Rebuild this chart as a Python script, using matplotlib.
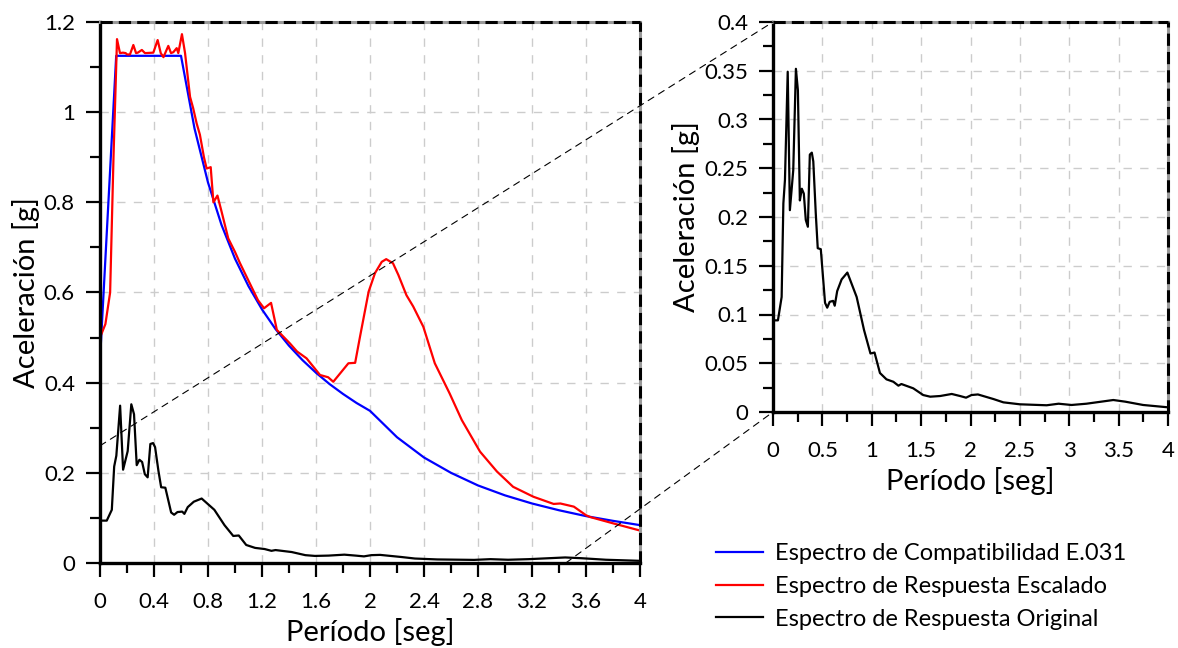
import matplotlib.pyplot as plt
from matplotlib.patches import ConnectionPatch
from matplotlib.ticker import MultipleLocator, FormatStrFormatter

plt.rcParams['font.family'] = ['Lato', 'DejaVu Sans']

# espectro de diseño E.031
t_diseno = [0, 0.12, 0.6, 0.7, 0.8, 0.9, 1.0, 1.1, 1.2, 1.3, 1.4, 1.5, 1.6, 1.7, 1.8,
            1.9, 2.0, 2.2, 2.4, 2.6, 2.8, 3.0, 3.2, 3.4, 3.6, 3.8, 4.0]
sa_diseno = [0.45, 1.125, 1.125, 0.964, 0.844, 0.75, 0.675, 0.614, 0.5625, 0.519, 0.482,
             0.45, 0.422, 0.397, 0.375, 0.355, 0.3375, 0.279, 0.234, 0.2, 0.172, 0.15,
             0.132, 0.117, 0.104, 0.0935, 0.084]

# espectro escalado
t_escalado = [0, 0.04, 0.075, 0.1, 0.126, 0.148, 0.17, 0.19, 0.2, 0.222, 0.247, 0.267,
              0.28, 0.31, 0.333, 0.395, 0.427, 0.45, 0.47, 0.506, 0.526, 0.543, 0.568,
              0.58, 0.607, 0.63, 0.667, 0.69, 0.716, 0.74, 0.77, 0.79, 0.82, 0.84,
              0.87, 0.9, 0.95, 1.0, 1.037, 1.11, 1.17, 1.215, 1.267, 1.31, 1.407, 1.46,
              1.53, 1.63, 1.69, 1.728, 1.78, 1.84, 1.89, 1.926, 1.99, 2.037, 2.087,
              2.12, 2.17, 2.21, 2.27, 2.32, 2.395, 2.48, 2.59, 2.68, 2.815, 2.94, 3.06,
              3.21, 3.36, 3.41, 3.51, 3.6, 3.63, 3.8, 4.0]
sa_escalado = [0.50, 0.53, 0.60, 0.90, 1.162, 1.131, 1.132, 1.131, 1.128, 1.128, 1.149,
               1.131, 1.132, 1.138, 1.131, 1.132, 1.160, 1.131, 1.122, 1.147, 1.131,
               1.133, 1.142, 1.131, 1.173, 1.131, 1.034, 1.009, 0.975, 0.95, 0.90, 0.875,
               0.878, 0.80, 0.815, 0.78, 0.72, 0.69, 0.665, 0.62, 0.583, 0.565, 0.577,
               0.517, 0.487, 0.469, 0.454, 0.417, 0.412, 0.402, 0.421, 0.443, 0.444,
               0.502, 0.602, 0.643, 0.668, 0.674, 0.665, 0.639, 0.594, 0.569, 0.524,
               0.443, 0.376, 0.317, 0.247, 0.203, 0.169, 0.147, 0.131, 0.132, 0.125,
               0.106, 0.102, 0.088, 0.072]

# espectro original
t_original = [0, 0.05, 0.0875, 0.105, 0.121, 0.149, 0.171, 0.205, 0.232, 0.252, 0.272,
              0.292, 0.312, 0.332, 0.353, 0.373, 0.393, 0.408, 0.433, 0.453, 0.484,
              0.527, 0.549, 0.574, 0.609, 0.625, 0.65, 0.695, 0.753, 0.847, 0.922,
              0.987, 1.028, 1.083, 1.149, 1.219, 1.27, 1.30, 1.42, 1.521, 1.592, 1.693,
              1.81, 1.894, 1.955, 2.01, 2.075, 2.232, 2.333, 2.499, 2.771, 2.892, 3.023,
              3.174, 3.446, 3.567, 3.748, 4.0]
sa_original = [0.094, 0.094, 0.118, 0.214, 0.238, 0.349, 0.207, 0.248, 0.352, 0.330,
               0.217, 0.229, 0.224, 0.197, 0.19, 0.264, 0.266, 0.257, 0.204, 0.168,
               0.167, 0.112, 0.107, 0.113, 0.114, 0.109, 0.124, 0.136, 0.143, 0.118,
               0.084, 0.060, 0.061, 0.040, 0.0335, 0.031, 0.027, 0.0287, 0.0243, 0.0174,
               0.0157, 0.0164, 0.0185, 0.0164, 0.0147, 0.0174, 0.018, 0.0133, 0.0099,
               0.0079, 0.0069, 0.0085, 0.0072, 0.0085, 0.0123, 0.0106, 0.0072, 0.0048]

etiquetas = ['Espectro de Compatibilidad E.031',
             'Espectro de Respuesta Escalado',
             'Espectro de Respuesta Original']

fig = plt.figure(figsize=(11.78, 6.48), dpi=100)
ax1 = fig.add_axes([100 / 1178, 85 / 648, 540 / 1178, 541 / 648])
ax2 = fig.add_axes([773 / 1178, 236 / 648, 395 / 1178, 390 / 648])


def estilo(ax, xmaj, xmin, ymaj, ymin, ymax):
    ax.set_xlim(0, 4)
    ax.set_ylim(0, ymax)
    ax.xaxis.set_major_locator(MultipleLocator(xmaj))
    ax.xaxis.set_minor_locator(MultipleLocator(xmin))
    ax.yaxis.set_major_locator(MultipleLocator(ymaj))
    ax.yaxis.set_minor_locator(MultipleLocator(ymin))
    ax.xaxis.set_major_formatter(FormatStrFormatter('%g'))
    ax.yaxis.set_major_formatter(FormatStrFormatter('%g'))
    ax.grid(True, which='major', color='#cccccc', linestyle=(0, (6, 6)), linewidth=1)
    ax.tick_params(which='major', direction='out', length=10, width=1.6, labelsize=16,
                   top=False, right=False)
    ax.tick_params(which='minor', direction='out', length=7, width=1.6,
                   top=False, right=False)
    ax.tick_params(axis='x', which='major', pad=11)
    ax.tick_params(axis='y', which='major', pad=8)
    for s in ['left', 'bottom']:
        ax.spines[s].set_linewidth(2.4)
    # borde superior y derecho: gris continuo con trazos negros encima
    for s in ['top', 'right']:
        ax.spines[s].set_linewidth(2.2)
        ax.spines[s].set_color('#999999')
    ax.axhline(ymax, color='black', linewidth=2.2, linestyle=(0, (4, 2)),
               clip_on=False, zorder=4)
    ax.axvline(4, color='black', linewidth=2.2, linestyle=(0, (4, 2)),
               clip_on=False, zorder=4)
    ax.set_xlabel('Período [seg]', fontsize=21)
    ax.set_ylabel('Aceleración [g]', fontsize=21, labelpad=3)


ax1.plot(t_diseno, sa_diseno, color='#0000ff', linewidth=1.6, label=etiquetas[0])
ax1.plot(t_escalado, sa_escalado, color='#ff0000', linewidth=1.6, label=etiquetas[1])
ax1.plot(t_original, sa_original, color='black', linewidth=1.6, label=etiquetas[2])
estilo(ax1, 0.4, 0.2, 0.2, 0.1, 1.2)

ax2.plot(t_original, sa_original, color='black', linewidth=1.6)
estilo(ax2, 0.5, 0.25, 0.05, 0.025, 0.4)

# lineas de zoom
for xa, xb in [((0, 0.26), (0, 0.4)), ((3.45, 0), (0, 0))]:
    con = ConnectionPatch(xyA=xa, coordsA=ax1.transData, xyB=xb, coordsB=ax2.transData,
                          color='black', linewidth=0.8, linestyle=(0, (6, 5)))
    fig.add_artist(con)

fig.legend(loc='upper left', bbox_to_anchor=(716 / 1178, 1 - 543 / 648), frameon=False,
           fontsize=17, handlelength=2.0, handletextpad=0.5, labelspacing=0.5,
           borderpad=0, borderaxespad=0)

plt.savefig('out.png')
